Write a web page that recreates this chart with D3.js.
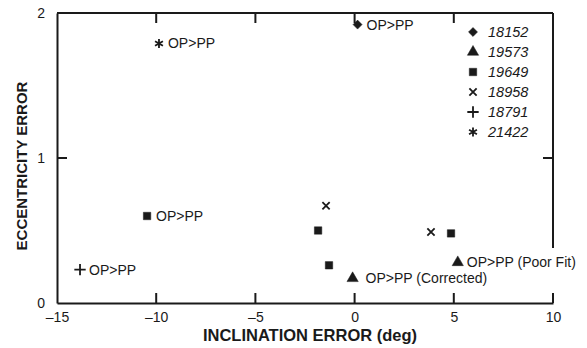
<!DOCTYPE html>
<html>
<head>
<meta charset="utf-8">
<script src="https://cdn.jsdelivr.net/npm/d3@7"></script>
<style>
  body { margin: 0; background: #fff; }
  svg { font-family: "Liberation Sans", Arial, Helvetica, sans-serif; }
</style>
</head>
<body>
<div id="chart"></div>
<script>
// satellite ids in legend order
const seriesIds = ['18152', '19573', '19649', '18958', '18791', '21422'];

// one entry per plotted point
const pointSeries = ['18152', '21422', '19649', '19649', '19649', '19649', '18958', '18958', '18791', '19573', '19573'];
const pointIncl   = [0.15, -9.86, -10.46, -1.84, -1.29, 4.86, -1.44, 3.85, -13.84, -0.1, 5.2];
const pointEcc    = [1.92, 1.79, 0.60, 0.50, 0.26, 0.48, 0.67, 0.49, 0.23, 0.17, 0.28];
const pointLabel  = ['OP>PP', 'OP>PP', 'OP>PP', '', '', '', '', '', 'OP>PP', 'OP>PP (Corrected)', 'OP>PP (Poor Fit)'];

const xTicks = [-15, -10, -5, 0, 5, 10];
const yTicks = [0, 1, 2];
const topTicks = [-10, -5, 0, 5];

const width = 587, height = 348;
const margin = { top: 13, right: 34, bottom: 45, left: 57 };
const ink = '#1a1a1a';
const tickLen = 10;

// marker shape per series
const symbolFor = {
  '18152': { type: d3.symbolDiamond2, size: 52, filled: true },
  '19573': { type: d3.symbolTriangle, size: 55, filled: true },
  '19649': { type: d3.symbolSquare, size: 55, filled: true },
  '18958': { type: d3.symbolTimes, size: 36, filled: false },
  '18791': { type: d3.symbolPlus, size: 44, filled: false },
  '21422': { type: d3.symbolAsterisk, size: 58, filled: false }
};

const x = d3.scaleLinear().domain([-15, 10]).range([margin.left, width - margin.right]);
const y = d3.scaleLinear().domain([0, 2]).range([height - margin.bottom, margin.top]);

const svg = d3.select('#chart').append('svg')
  .attr('width', width)
  .attr('height', height);

function styleAxis(g) {
  g.select('.domain').attr('stroke', ink).attr('stroke-width', 2);
  g.selectAll('.tick line').remove();
  g.selectAll('.tick text').attr('fill', ink).style('font-size', '14px');
}

// bottom axis (labels + line)
svg.append('g')
  .attr('transform', `translate(0, ${y(0)})`)
  .call(d3.axisBottom(x).tickValues(xTicks).tickSizeInner(0).tickSizeOuter(0).tickPadding(9)
    .tickFormat(d => d < 0 ? '\u2013' + Math.abs(d) : d))
  .call(styleAxis);

// left axis
svg.append('g')
  .attr('transform', `translate(${x(-15)}, 0)`)
  .call(d3.axisLeft(y).tickValues(yTicks).tickSizeInner(0).tickSizeOuter(0).tickPadding(12)
    .tickFormat(d3.format('d')))
  .call(styleAxis);

// top frame line
svg.append('line')
  .attr('x1', x(-15)).attr('x2', x(10))
  .attr('y1', y(2)).attr('y2', y(2))
  .attr('stroke', ink).attr('stroke-width', 2);

// right frame, stops above the "Poor Fit" label
svg.append('line')
  .attr('x1', x(10)).attr('x2', x(10))
  .attr('y1', y(2)).attr('y2', y(0.38))
  .attr('stroke', ink).attr('stroke-width', 2);

// inward ticks
const tickData = [];
xTicks.filter(d => d > -15).forEach(d => tickData.push({ x1: x(d), y1: y(0), x2: x(d), y2: y(0) - tickLen }));
topTicks.forEach(d => tickData.push({ x1: x(d), y1: y(2), x2: x(d), y2: y(2) + tickLen }));
tickData.push({ x1: x(-15), y1: y(1), x2: x(-15) + tickLen, y2: y(1) });
tickData.push({ x1: x(10), y1: y(1), x2: x(10) - tickLen, y2: y(1) });

svg.append('g').selectAll('path').data(tickData).enter().append('path')
  .attr('d', d => `M${d.x1},${d.y1}L${d.x2},${d.y2}`)
  .attr('fill', 'none')
  .attr('stroke', ink)
  .attr('stroke-width', 2);

// axis titles
svg.append('text')
  .attr('x', (x(-15) + x(10)) / 2 + 5)
  .attr('y', 341)
  .attr('text-anchor', 'middle')
  .attr('fill', ink)
  .style('font-size', '16.5px')
  .style('font-weight', 'bold')
  .text('INCLINATION ERROR (deg)');

svg.append('text')
  .attr('transform', 'rotate(-90)')
  .attr('x', -166)
  .attr('y', 27)
  .attr('text-anchor', 'middle')
  .attr('fill', ink)
  .style('font-size', '15px')
  .style('font-weight', 'bold')
  .text('ECCENTRICITY ERROR');

function drawSymbol(sel, id) {
  const s = symbolFor[id];
  sel.attr('d', d3.symbol().type(s.type).size(s.size)())
    .attr('fill', s.filled ? ink : 'none')
    .attr('stroke', ink)
    .attr('stroke-width', s.filled ? 0.5 : 1.8);
}

// points
const points = pointSeries.map((s, i) => ({ id: s, xv: pointIncl[i], yv: pointEcc[i], label: pointLabel[i] }));

const pg = svg.append('g').selectAll('g').data(points).enter().append('g')
  .attr('transform', d => `translate(${x(d.xv)}, ${y(d.yv)})`);

pg.append('path').each(function(d) { drawSymbol(d3.select(this), d.id); });

pg.filter(d => d.label).append('text')
  .attr('x', d => d.label.indexOf('Corrected') >= 0 ? 13 : 9)
  .attr('y', 5)
  .attr('fill', ink)
  .style('font-size', '14px')
  .text(d => d.label);

// legend
const legend = svg.append('g').attr('transform', 'translate(473, 32)');
const items = legend.selectAll('g').data(seriesIds).enter().append('g')
  .attr('transform', (d, i) => `translate(0, ${i * 20})`);
items.append('path').each(function(d) { drawSymbol(d3.select(this), d); });
items.append('text')
  .attr('x', 15)
  .attr('y', 5)
  .attr('fill', ink)
  .style('font-size', '14.5px')
  .style('font-style', 'italic')
  .text(d => d);
</script>
</body>
</html>
